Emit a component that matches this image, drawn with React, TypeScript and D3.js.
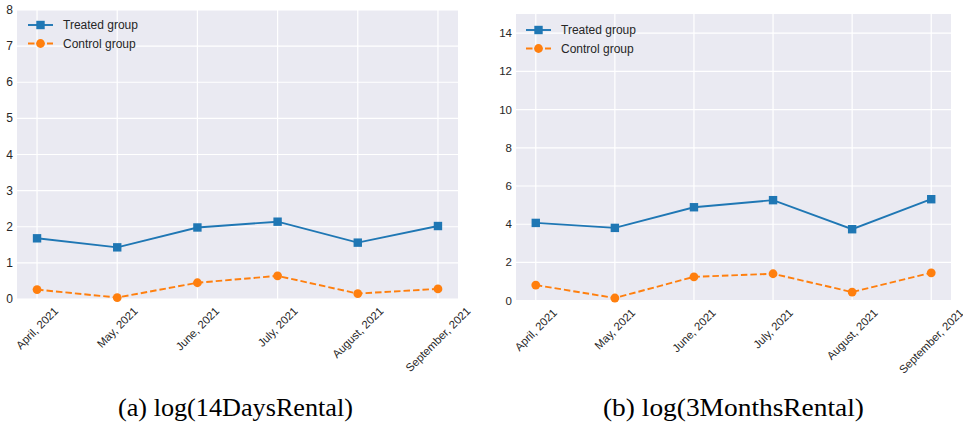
import React, { useEffect, useRef } from "react";
import * as d3 from "d3";

const months = ["April, 2021", "May, 2021", "June, 2021", "July, 2021", "August, 2021", "September, 2021"];
const treated14 = [1.68, 1.43, 1.98, 2.14, 1.56, 2.02];
const control14 = [0.26, 0.04, 0.45, 0.64, 0.15, 0.28];
const treated3M = [4.07, 3.81, 4.89, 5.26, 3.74, 5.31];
const control3M = [0.82, 0.14, 1.25, 1.41, 0.45, 1.46];
const ticks14 = [0, 1, 2, 3, 4, 5, 6, 7, 8];
const ticks3M = [0, 2, 4, 6, 8, 10, 12, 14];
const legendLabels = ["Treated group", "Control group"];
const captions = ["(a) log(14DaysRental)", "(b) log(3MonthsRental)"];

const BLUE = "#1f77b4";
const ORANGE = "#ff7f0e";
const TEXT = "#262626";
const BG = "#eaeaf2";

type Panel = {
  x0: number; x1: number; yTop: number; yBottom: number; yMax: number;
  ticks: number[]; treated: number[]; control: number[];
  legendX: number; legendY: number; tickFont: number;
  caption: string; capX0: number; capX1: number;
};

const panels: Panel[] = [
  { x0: 17, x1: 458, yTop: 10, yBottom: 299, yMax: 8, ticks: ticks14, treated: treated14, control: control14,
    legendX: 28, legendY: 25, tickFont: 12, caption: captions[0], capX0: 118, capX1: 353 },
  { x0: 516, x1: 951, yTop: 14, yBottom: 300.7, yMax: 15, ticks: ticks3M, treated: treated3M, control: control3M,
    legendX: 526, legendY: 30, tickFont: 11.5, caption: captions[1], capX0: 603, capX1: 864 },
];

export default function App() {
  const ref = useRef<SVGSVGElement | null>(null);
  useEffect(() => {
    const svg = d3.select(ref.current);
    svg.selectAll("*").remove();
    panels.forEach((p) => {
      const x = d3.scaleLinear().domain([-0.25, months.length - 0.75]).range([p.x0, p.x1]);
      const y = d3.scaleLinear().domain([0, p.yMax]).range([p.yBottom, p.yTop]);
      const g = svg.append("g");
      g.append("rect").attr("x", p.x0).attr("y", p.yTop).attr("width", p.x1 - p.x0).attr("height", p.yBottom - p.yTop).attr("fill", BG);
      g.selectAll(".hg").data(p.ticks).enter().append("line")
        .attr("x1", p.x0).attr("x2", p.x1).attr("y1", (d) => y(d)).attr("y2", (d) => y(d))
        .attr("stroke", "#fff").attr("stroke-width", 1.2);
      g.selectAll(".vg").data(months).enter().append("line")
        .attr("x1", (_d, i) => x(i)).attr("x2", (_d, i) => x(i)).attr("y1", p.yTop).attr("y2", p.yBottom)
        .attr("stroke", "#fff").attr("stroke-width", 1.2);
      g.selectAll(".yt").data(p.ticks).enter().append("text")
        .attr("x", p.x0 - 4).attr("y", (d) => y(d)).attr("text-anchor", "end").attr("dominant-baseline", "central")
        .attr("font-family", "'Liberation Sans', Arial, sans-serif").attr("font-size", p.tickFont).attr("fill", TEXT)
        .text((d) => String(d));
      months.forEach((m, i) => {
        const t = g.append("text")
          .attr("text-anchor", "middle").attr("dominant-baseline", "central")
          .attr("font-family", "'Liberation Sans', Arial, sans-serif").attr("font-size", 11.3).attr("fill", TEXT)
          .text(m);
        const w = (t.node() as SVGTextElement).getComputedTextLength();
        const h = 12.5;
        const bb = (w + h) * Math.SQRT1_2;
        const cx = x(i);
        const cy = p.yBottom + 5.5 + bb / 2;
        t.attr("transform", `translate(${cx},${cy}) rotate(-45)`);
      });
      const line = d3.line<number>().x((_d, i) => x(i)).y((d) => y(d));
      g.append("path").datum(p.treated).attr("d", line).attr("fill", "none").attr("stroke", BLUE).attr("stroke-width", 1.9);
      g.append("path").datum(p.control).attr("d", line).attr("fill", "none").attr("stroke", ORANGE).attr("stroke-width", 1.9)
        .attr("stroke-dasharray", "6.5,3");
      g.selectAll(".sq").data(p.treated).enter().append("rect")
        .attr("x", (_d, i) => x(i) - 4.2).attr("y", (d) => y(d) - 4.2).attr("width", 8.4).attr("height", 8.4).attr("fill", BLUE);
      g.selectAll(".ci").data(p.control).enter().append("circle")
        .attr("cx", (_d, i) => x(i)).attr("cy", (d) => y(d)).attr("r", 4.4).attr("fill", ORANGE);
      legendLabels.forEach((lab, k) => {
        const ly = p.legendY + k * 18.5;
        const col = k === 0 ? BLUE : ORANGE;
        const ln = g.append("line").attr("x1", p.legendX).attr("x2", p.legendX + 25).attr("y1", ly).attr("y2", ly)
          .attr("stroke", col).attr("stroke-width", 1.9);
        if (k === 1) ln.attr("stroke-dasharray", "6.5,3");
        if (k === 0) g.append("rect").attr("x", p.legendX + 12.5 - 4.2).attr("y", ly - 4.2).attr("width", 8.4).attr("height", 8.4).attr("fill", col);
        else g.append("circle").attr("cx", p.legendX + 12.5).attr("cy", ly).attr("r", 4.4).attr("fill", col);
        g.append("text").attr("x", p.legendX + 35).attr("y", ly).attr("dominant-baseline", "central")
          .attr("font-family", "'Liberation Sans', Arial, sans-serif").attr("font-size", 12).attr("fill", TEXT).text(lab);
      });
      g.append("text").attr("x", p.capX0).attr("y", 416)
        .attr("font-family", "'Liberation Serif', 'Times New Roman', serif").attr("font-size", 24.5).attr("fill", "#000")
        .attr("textLength", p.capX1 - p.capX0).attr("lengthAdjust", "spacingAndGlyphs")
        .text(p.caption);
    });
  }, []);
  return (
    <svg ref={ref} width={963} height={428} style={{ position: "absolute", left: 0, top: 0, background: "#fff" }} />
  );
}
